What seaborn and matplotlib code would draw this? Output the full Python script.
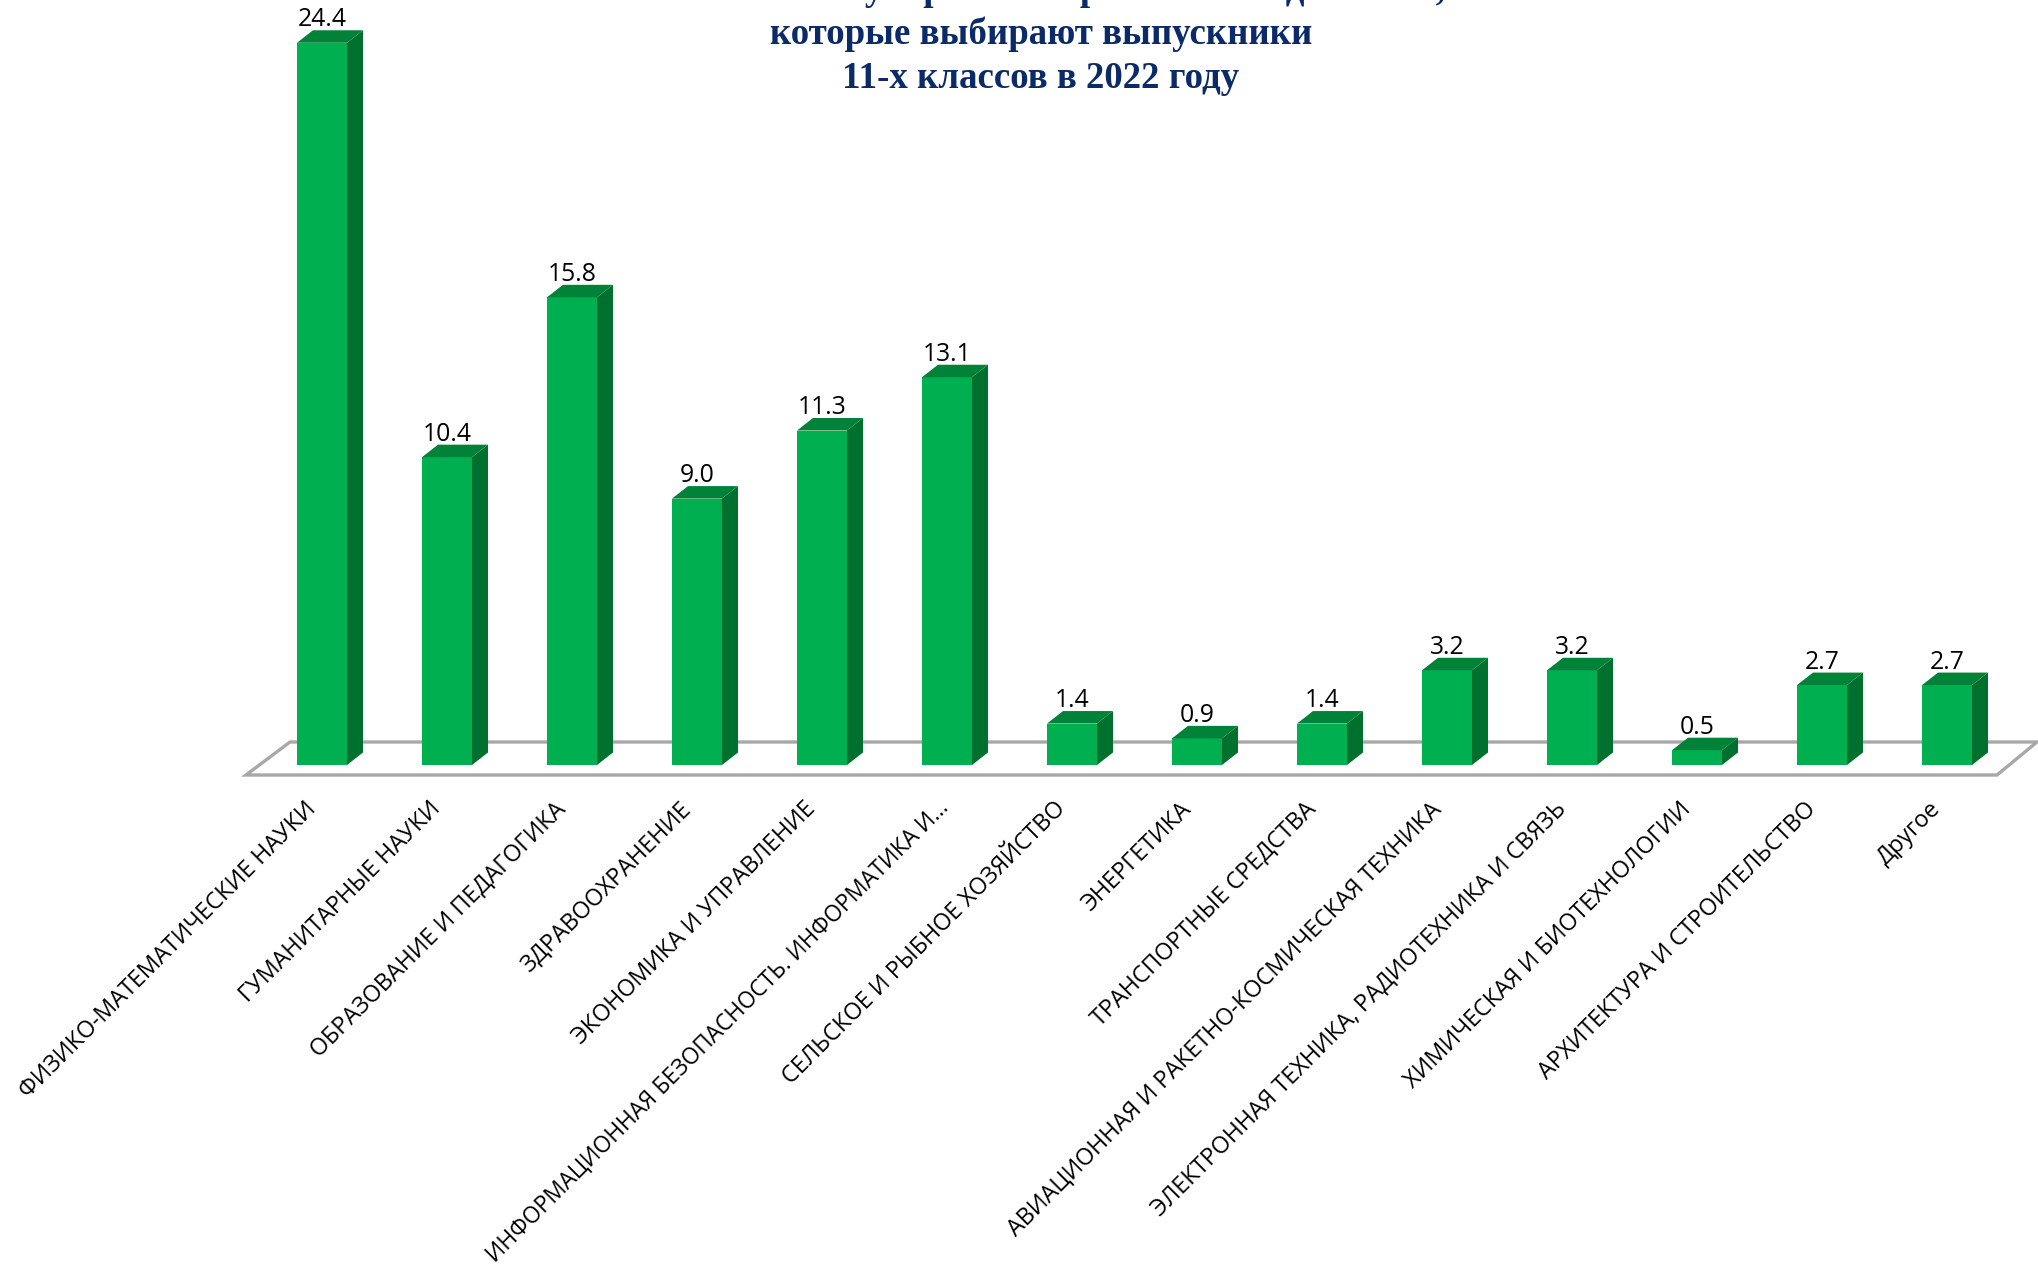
import matplotlib
matplotlib.use("Agg")
import matplotlib.pyplot as plt
from matplotlib.patches import Polygon
from matplotlib.transforms import ScaledTranslation
import seaborn as sns

categories = [
    "ФИЗИКО-МАТЕМАТИЧЕСКИЕ НАУКИ",
    "ГУМАНИТАРНЫЕ НАУКИ",
    "ОБРАЗОВАНИЕ И ПЕДАГОГИКА",
    "ЗДРАВООХРАНЕНИЕ",
    "ЭКОНОМИКА И УПРАВЛЕНИЕ",
    "ИНФОРМАЦИОННАЯ БЕЗОПАСНОСТЬ. ИНФОРМАТИКА И...",
    "СЕЛЬСКОЕ И РЫБНОЕ ХОЗЯЙСТВО",
    "ЭНЕРГЕТИКА",
    "ТРАНСПОРТНЫЕ СРЕДСТВА",
    "АВИАЦИОННАЯ И РАКЕТНО-КОСМИЧЕСКАЯ ТЕХНИКА",
    "ЭЛЕКТРОННАЯ ТЕХНИКА, РАДИОТЕХНИКА И СВЯЗЬ",
    "ХИМИЧЕСКАЯ И БИОТЕХНОЛОГИИ",
    "АРХИТЕКТУРА И СТРОИТЕЛЬСТВО",
    "Другое",
]
values = [24.4, 10.4, 15.8, 9.0, 11.3, 13.1, 1.4, 0.9, 1.4, 3.2, 3.2, 0.5, 2.7, 2.7]
title_lines = [
    "Наиболее популярные направления подготовки,",
    "которые выбирают выпускники",
    "11-х классов в 2022 году",
]

W, H = 2038, 1265
FRONT = "#00B050"
SIDE = "#00702F"
TOP = "#008238"
FLOOR = "#A8A8A8"
NAVY = "#0B2A68"

# pixel scale of the picture
PX_CAT = 125.0
PX_UNIT = 29.6
FIRST_CENTER = 322
BASE_Y = 765
FLOOR_Y = 775
dx = 16 / PX_CAT
dy = 12.5 / PX_UNIT

sns.set_theme(style="white")
plt.rcParams["font.family"] = ["Open Sans", "DejaVu Sans"]

fig = plt.figure(figsize=(W / 100, H / 100), dpi=100)
ax = fig.add_axes([0, (H - FLOOR_Y) / H, 1, FLOOR_Y / H])

sns.barplot(x=categories, y=values, color=FRONT, saturation=1, width=0.4,
            linewidth=0, edgecolor="none", ax=ax, zorder=3)
ax.set_xlim(-FIRST_CENTER / PX_CAT, (W - FIRST_CENTER) / PX_CAT)
ax.set_ylim(-(FLOOR_Y - BASE_Y) / PX_UNIT, BASE_Y / PX_UNIT)
ax.set_xlabel("")
ax.set_ylabel("")
ax.set_yticks([])
sns.despine(ax=ax, left=True, bottom=True)

# fake 3d: side and top of every bar
half = 0.2
for i, v in enumerate(values):
    left, right = i - half, i + half
    ax.add_patch(Polygon([(right, 0), (right + dx, dy), (right + dx, v + dy), (right, v)],
                         facecolor=SIDE, edgecolor="none", zorder=3))
    ax.add_patch(Polygon([(left, v), (right, v), (right + dx, v + dy), (left + dx, v + dy)],
                         facecolor=TOP, edgecolor="none", zorder=3))

# floor of the chart
y_front = -(FLOOR_Y - BASE_Y) / PX_UNIT
y_back = (BASE_Y - 742) / PX_UNIT
x_fl = (246 - FIRST_CENTER) / PX_CAT
x_fr = (1997 - FIRST_CENTER) / PX_CAT
x_bl = (290 - FIRST_CENTER) / PX_CAT
x_br = (2037 - FIRST_CENTER) / PX_CAT
ax.add_patch(Polygon([(x_fl, y_front), (x_fr, y_front), (x_br, y_back), (x_bl, y_back)],
                     closed=True, facecolor="none", edgecolor=FLOOR, linewidth=2.4,
                     zorder=1, clip_on=False))

value_labels = ax.bar_label(ax.containers[0], fmt="%.1f", padding=7.5, fontsize=17.8,
                            color="black", family="Open Sans")
for t in value_labels:
    t.set_transform(t.get_transform() + ScaledTranslation(-1.5 / 100, 0, fig.dpi_scale_trans))

ax.tick_params(axis="x", length=0, pad=16, labelsize=16.8, colors="black")
plt.setp(ax.get_xticklabels(), rotation=45, ha="right", rotation_mode="anchor")
# labels sit a bit left of the bar centres
shift = ScaledTranslation(-18 / 100, 0, fig.dpi_scale_trans)
for t in ax.get_xticklabels():
    t.set_transform(t.get_transform() + shift)
# the long truncated label has to stay inside the picture
long_label = ax.get_xticklabels()[5]
long_label.set_fontsize(16.3)
long_label.set_transform(long_label.get_transform()
                         + ScaledTranslation(8 / 100, 2 / 100, fig.dpi_scale_trans))

for line, base in zip(title_lines, [0, 44, 88]):
    fig.text(1041 / W, 1 - base / H, line, ha="center", va="baseline", fontsize=26.6,
             fontweight="bold", family="Liberation Serif", color=NAVY)

fig.savefig("out.png", dpi=100)
